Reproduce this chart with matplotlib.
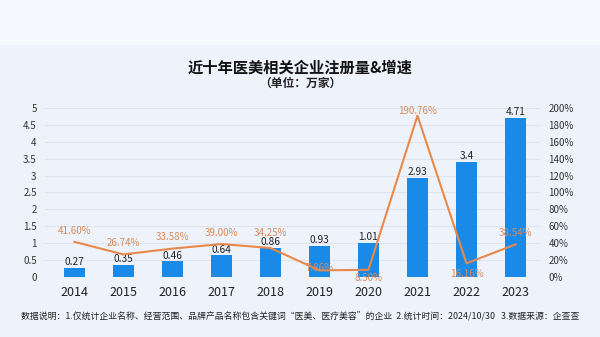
import matplotlib
matplotlib.use("Agg")
import matplotlib.pyplot as plt
import numpy as np

plt.rcParams['font.family'] = ['Noto Sans CJK SC', 'DejaVu Sans']

years = ['2014', '2015', '2016', '2017', '2018', '2019', '2020', '2021', '2022', '2023']
counts = [0.27, 0.35, 0.46, 0.64, 0.86, 0.93, 1.01, 2.93, 3.4, 4.71]
count_labels = ['0.27', '0.35', '0.46', '0.64', '0.86', '0.93', '1.01', '2.93', '3.4', '4.71']
growth = [41.60, 26.74, 33.58, 39.00, 34.25, 7.86, 8.50, 190.76, 16.16, 38.54]
growth_labels = ['41.60%', '26.74%', '33.58%', '39.00%', '34.25%', '7.86%', '8.50%', '190.76%', '16.16%', '38.54%']
label_offsets = [8, 8, 8, 8, 11, 2, -6, 3, -8, 8]

fig = plt.figure(figsize=(6, 3.37), dpi=100)
fig.patch.set_facecolor('#eef3fb')
fig.add_artist(plt.Rectangle((0, 1 - 45/337), 1, 45/337, transform=fig.transFigure,
                             facecolor='#f5f8fc', edgecolor='none', zorder=0))

ax = fig.add_axes([0.075, 0.178, 0.825, 0.502])
ax.set_facecolor('none')
x = np.arange(len(years))
bar_color = '#1a8ae8'
line_color = '#e8894a'
ax.bar(x, counts, width=0.42, color=bar_color, zorder=3)
for xi, v, lab in zip(x, counts, count_labels):
    ax.text(xi, v + 0.02, lab, ha='center', va='bottom', fontsize=7.3, color='#222222', zorder=5)
ax.set_ylim(0, 5)
ax.set_xlim(-0.6, 9.5)
ax.set_yticks(np.arange(0, 5.01, 0.5))
ax.set_yticklabels(['0', '0.5', '1', '1.5', '2', '2.5', '3', '3.5', '4', '4.5', '5'])
ax.yaxis.grid(True, color='#dfe4ee', linewidth=0.8, zorder=0)
ax.set_axisbelow(True)
for s in ax.spines.values():
    s.set_visible(False)
ax.tick_params(axis='y', length=0, labelsize=7, labelcolor='#333333', pad=6)
ax.tick_params(axis='x', length=0, labelsize=9, labelcolor='#222222', pad=6.5)
ax.set_xticks(x)
ax.set_xticklabels(years)

ax2 = ax.twinx()
ax2.set_ylim(0, 200)
ax2.plot(x, growth, color=line_color, linewidth=1.5, zorder=4)
for xi, v, lab, off in zip(x, growth, growth_labels, label_offsets):
    ax2.annotate(lab, (xi, v), xytext=(0, off), textcoords='offset points',
                 ha='center', va='center', fontsize=7, color='#d98a57', zorder=6)
ax2.set_yticks(np.arange(0, 201, 20))
ax2.set_yticklabels([f'{v}%' for v in range(0, 201, 20)])
for s in ax2.spines.values():
    s.set_visible(False)
ax2.tick_params(axis='y', length=0, labelsize=7, labelcolor='#333333', pad=6)

fig.text(0.5, 1 - 68/337, '近十年医美相关企业注册量&增速', ha='center', va='center',
         fontsize=11, fontweight='bold', color='#111111')
fig.text(0.5, 1 - 83/337, '（单位：万家）', ha='center', va='center',
         fontsize=8.5, fontweight='bold', color='#222222')
fig.text(0.5, 1 - 317/337,
         '数据说明：1.仅统计企业名称、经营范围、品牌产品名称包含关键词“医美、医疗美容”的企业  2.统计时间：2024/10/30   3.数据来源：企查查',
         ha='center', va='center', fontsize=6.4, color='#222222')

fig.savefig('out.png', dpi=100, facecolor=fig.get_facecolor())
